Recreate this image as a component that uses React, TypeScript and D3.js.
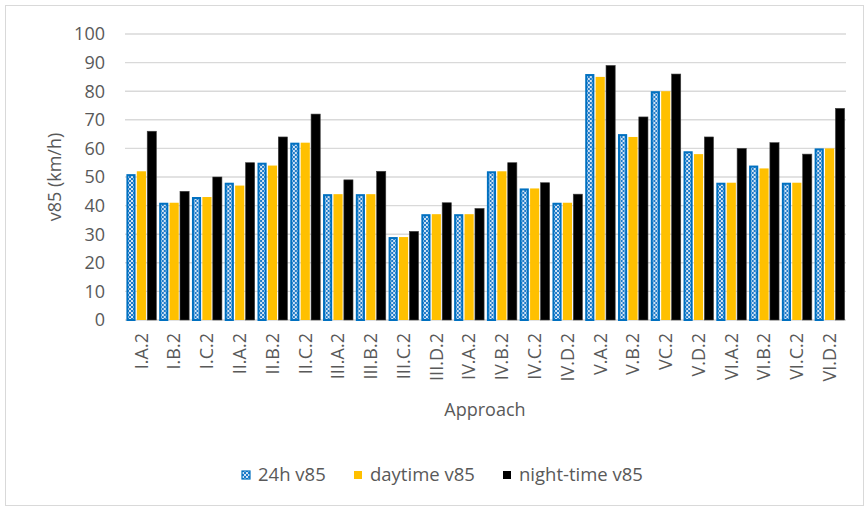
import React from "react";
import * as d3 from "d3";

const W = 866;
const H = 509;
const MARGIN = { top: 34, right: 20, bottom: 189, left: 125 };

const categories = [
  "I.A.2", "I.B.2", "I.C.2", "II.A.2", "II.B.2", "II.C.2", "III.A.2", "III.B.2",
  "III.C.2", "III.D.2", "IV.A.2", "IV.B.2", "IV.C.2", "IV.D.2", "V.A.2", "V.B.2",
  "VC.2", "V.D.2", "VI.A.2", "VI.B.2", "VI.C.2", "VI.D.2",
];
const v24h = [51, 41, 43, 48, 55, 62, 44, 44, 29, 37, 37, 52, 46, 41, 86, 65, 80, 59, 48, 54, 48, 60];
const vDay = [52, 41, 43, 47, 54, 62, 44, 44, 29, 37, 37, 52, 46, 41, 85, 64, 80, 58, 48, 53, 48, 60];
const vNight = [66, 45, 50, 55, 64, 72, 49, 52, 31, 41, 39, 55, 48, 44, 89, 71, 86, 64, 60, 62, 58, 74];
const seriesNames = ["24h v85", "daytime v85", "night-time v85"];
const yTicks = [0, 10, 20, 30, 40, 50, 60, 70, 80, 90, 100];

const FONT = "'Open Sans', 'Liberation Sans', sans-serif";
const TEXT = "#595959";
const GRID = "#D9D9D9";

export default function App() {
  const plotW = 846 - MARGIN.left;
  const x0 = d3.scaleBand<string>().domain(categories).range([MARGIN.left, MARGIN.left + plotW]);
  const bw = x0.bandwidth();
  const x1 = d3.scaleBand<string>().domain(seriesNames).range([1.4, bw - 1.4]).paddingInner(0.12);
  const y = d3.scaleLinear().domain([0, 100]).range([320, MARGIN.top]);

  const series = [v24h, vDay, vNight];

  return (
    <svg width={W} height={H} style={{ position: "absolute", left: 0, top: 0, background: "#fff" }}>
      <defs>
        <pattern id="chk" width="4" height="4" patternUnits="userSpaceOnUse">
          <rect width="4" height="4" fill="#cfe3f5" />
          <rect width="2" height="2" fill="#1F7BC9" />
          <rect x="2" y="2" width="2" height="2" fill="#1F7BC9" />
        </pattern>
      </defs>
      <rect x={5.5} y={5.5} width={W - 8} height={H - 9} fill="none" stroke={GRID} />

      {/* grid */}
      {yTicks.map((t) => (
        <g key={t}>
          <line x1={MARGIN.left} x2={MARGIN.left + plotW} y1={y(t)} y2={y(t)} stroke={GRID} strokeWidth={1.4} />
          <text x={105} y={y(t)} dy="0.35em" textAnchor="end" fontFamily={FONT} fontSize={18} fill={TEXT}>
            {t}
          </text>
        </g>
      ))}

      {/* bars */}
      {categories.map((c, i) => (
        <g key={c} transform={`translate(${x0(c)},0)`}>
          {series.map((s, j) => {
            const name = seriesNames[j];
            const xx = x1(name) as number;
            const w = x1.bandwidth();
            const top = y(s[i]);
            if (j === 0) {
              return (
                <rect key={name} x={xx + 1} y={top + 1} width={w - 2} height={y(0) - top - 1}
                  fill="url(#chk)" stroke="#0070C0" strokeWidth={2} />
              );
            }
            return (
              <rect key={name} x={xx} y={top} width={w} height={y(0) - top}
                fill={j === 1 ? "#FFC000" : "#000000"} stroke={j === 2 ? "#404040" : "none"} strokeWidth={0.6} />
            );
          })}
          <text
            transform={`translate(${bw / 2},333) rotate(-90)`}
            dy="0.35em"
            textAnchor="end"
            fontFamily={FONT}
            fontSize={18}
            fill={TEXT}
          >
            {c}
          </text>
        </g>
      ))}

      {/* axis titles */}
      <text x={485} y={410} dy="0.35em" textAnchor="middle" fontFamily={FONT} fontSize={18} fill={TEXT}>
        Approach
      </text>
      <text transform={`translate(55,${(y(0) + y(100)) / 2}) rotate(-90)`} dy="0.35em" textAnchor="middle"
        fontFamily={FONT} fontSize={18} fill={TEXT}>
        v85 (km/h)
      </text>

      {/* legend */}
      <g fontFamily={FONT} fontSize={18.5} fill={TEXT}>
        <rect x={242} y={471} width={8} height={8} fill="url(#chk)" stroke="#0070C0" strokeWidth={1.2} />
        <text x={258} y={475} dy="0.35em">{seriesNames[0]}</text>
        <rect x={354} y={471} width={8} height={8} fill="#FFC000" />
        <text x={370} y={475} dy="0.35em">{seriesNames[1]}</text>
        <rect x={503} y={471} width={8} height={8} fill="#000" />
        <text x={519} y={475} dy="0.35em">{seriesNames[2]}</text>
      </g>
    </svg>
  );
}
